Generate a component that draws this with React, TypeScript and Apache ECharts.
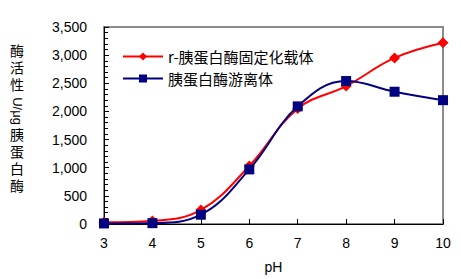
import React, { useEffect, useRef } from "react";
import * as echarts from "echarts";

const pH = [3, 4, 5, 6, 7, 8, 9, 10];
const immobilized = [30, 55, 250, 1030, 2050, 2450, 2950, 3220];
const free = [10, 15, 165, 970, 2090, 2540, 2350, 2200];
const seriesNames = ["r-胰蛋白酶固定化载体", "胰蛋白酶游离体"];
const yTitleTop = ["酶", "活", "性"];
const yTitleUnit = "U/μg";
const yTitleBottom = ["胰", "蛋", "白", "酶"];
const xTitle = "pH";

const FONT = "'Liberation Sans', 'Noto Sans CJK SC', sans-serif";
const CJK = "'Noto Sans CJK SC', sans-serif";

export default function App() {
  const ref = useRef<HTMLDivElement>(null);
  useEffect(() => {
    if (!ref.current) return;
    const chart = echarts.init(ref.current, undefined, { renderer: "svg" });
    const charText = (ch: string, cy: number) => ({
      type: "text",
      x: 17,
      y: cy,
      style: {
        text: ch,
        fontSize: 14,
        lineHeight: 14,
        fill: "#000",
        fontFamily: FONT,
        align: "center",
        verticalAlign: "middle",
      },
    });
    chart.setOption({
      animation: false,
      backgroundColor: "#ffffff",
      grid: {
        left: 104,
        right: 18,
        top: 27,
        bottom: 53,
        show: true,
        borderColor: "#8c8c8c",
        borderWidth: 2,
        backgroundColor: "transparent",
      },
      legend: {
        orient: "vertical",
        left: 117,
        top: 44,
        itemWidth: 40,
        itemHeight: 10,
        itemGap: 7,
        textStyle: { fontSize: 15, color: "#000", fontFamily: CJK },
        data: seriesNames,
      },
      xAxis: {
        type: "value",
        min: 3,
        max: 10,
        interval: 1,
        name: xTitle,
        nameLocation: "middle",
        nameGap: 36,
        nameTextStyle: { fontSize: 14, color: "#000", fontFamily: FONT },
        axisLine: { show: true, lineStyle: { color: "#000", width: 1 } },
        axisTick: { show: true, inside: true, length: 5, lineStyle: { color: "#000" } },
        axisLabel: { fontSize: 14, color: "#000", fontFamily: FONT, margin: 12 },
        splitLine: { show: false },
      },
      yAxis: {
        type: "value",
        min: 0,
        max: 3500,
        interval: 500,
        axisLine: { show: true, lineStyle: { color: "#000", width: 1 } },
        axisTick: { show: true, inside: true, length: 5, lineStyle: { color: "#000" } },
        minorTick: { show: true, splitNumber: 5, length: 4, lineStyle: { color: "#000" } },
        axisLabel: {
          fontSize: 14,
          color: "#000",
          fontFamily: FONT,
          margin: 17,
          formatter: (v: number) => v.toLocaleString("en-US"),
        },
        splitLine: { show: false },
      },
      graphic: [
        ...yTitleTop.map((ch, i) => charText(ch, 51 + i * 17)),
        {
          type: "text",
          x: 17,
          y: 111,
          rotation: -Math.PI / 2,
          style: {
            text: yTitleUnit,
            fontSize: 13,
            lineHeight: 13,
            fill: "#000",
            fontFamily: FONT,
            align: "center",
            verticalAlign: "middle",
          },
        },
        ...yTitleBottom.map((ch, i) => charText(ch, 135 + i * 17)),
      ],
      series: [
        {
          name: seriesNames[0],
          type: "line",
          smooth: 0.4,
          data: pH.map((x, i) => [x, immobilized[i]]),
          symbol: "diamond",
          symbolSize: 11,
          lineStyle: { color: "#ff0000", width: 2 },
          itemStyle: { color: "#ff0000" },
          z: 2,
        },
        {
          name: seriesNames[1],
          type: "line",
          smooth: 0.4,
          data: pH.map((x, i) => [x, free[i]]),
          symbol: "rect",
          symbolSize: 10,
          lineStyle: { color: "#000080", width: 2 },
          itemStyle: { color: "#000080" },
          z: 3,
        },
      ],
    });
    return () => chart.dispose();
  }, []);
  return (
    <div
      ref={ref}
      style={{ position: "fixed", left: 0, top: 0, width: 461, height: 279 }}
    />
  );
}
